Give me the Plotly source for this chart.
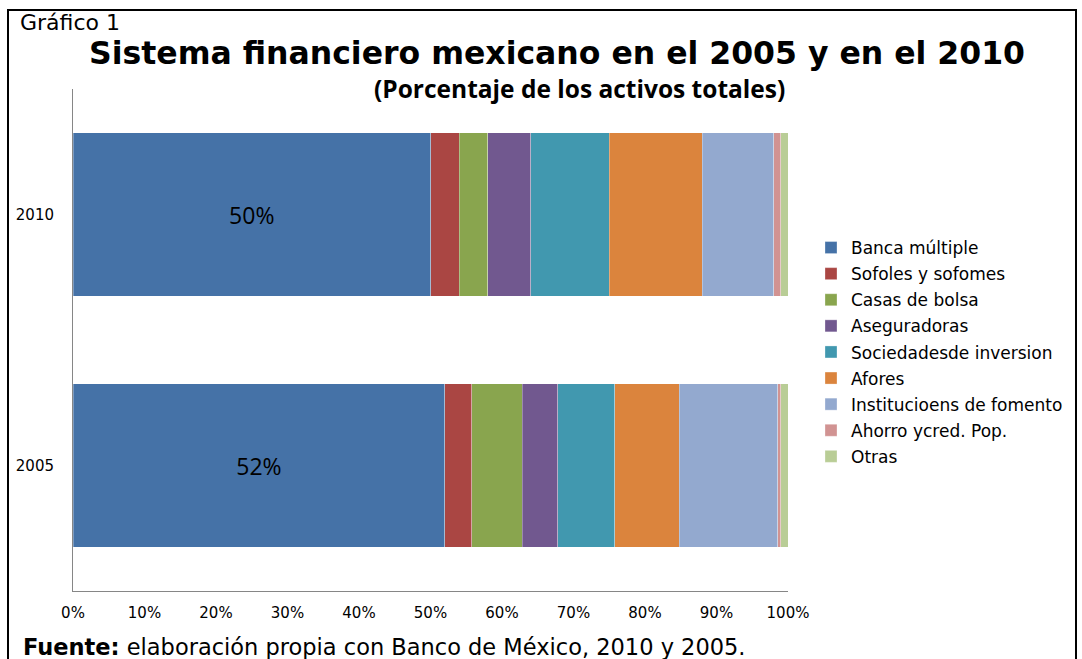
import plotly.graph_objects as go

# Data: share of total assets (%) by institution type
years = ["2005", "2010"]
categories = [
    "Banca múltiple",
    "Sofoles y sofomes",
    "Casas de bolsa",
    "Aseguradoras",
    "Sociedadesde inversion",
    "Afores",
    "Institucioens de fomento",
    "Ahorro ycred. Pop.",
    "Otras",
]
values_2005 = [52, 3.8, 7, 5, 8, 9, 13.8, 0.4, 1.0]
values_2010 = [50, 4, 4, 6, 11, 13, 10, 1, 1]
colors = ["#4572A7", "#AA4643", "#89A54E", "#71588F", "#4198AF",
          "#DB843D", "#93A9CF", "#D19392", "#B9CD96"]
x_ticks = [0, 10, 20, 30, 40, 50, 60, 70, 80, 90, 100]
x_tick_labels = [f"{t}%" for t in x_ticks]

W, H = 1082, 659
ML, MR, MT, MB = 73, W - 788, 89, H - 591
PW, PH = W - ML - MR, H - MT - MB

SANS = "DejaVu Sans, Arial, sans-serif"
SOFT = "Open Sans, Lato, sans-serif"


def px(x):
    return (x - ML) / PW


def py(y):
    return (H - MB - y) / PH


fig = go.Figure()
for i, (name, col) in enumerate(zip(categories, colors)):
    vals = [values_2005[i], values_2010[i]]
    kw = {}
    if i == 0:
        kw = dict(
            text=[f"{v:g}%" for v in vals],
            textposition="inside",
            insidetextanchor="middle",
            textfont=dict(family=SOFT, size=23, color="#000000"),
        )
    fig.add_trace(go.Bar(
        y=years, x=vals, name=name, orientation="h",
        legendgroup=f"g{i}",
        marker=dict(color=col, line=dict(color="rgba(255,255,255,0.5)", width=0.6)),
        hoverinfo="x+name",
        **kw,
    ))

fig.update_layout(
    width=W, height=H,
    barmode="stack", bargap=0.35,
    plot_bgcolor="white", paper_bgcolor="white",
    margin=dict(l=ML, r=MR, t=MT, b=MB, autoexpand=False),
    font=dict(family=SANS, color="#000000"),
    showlegend=True,
    legend=dict(
        x=px(811), y=py(230), xanchor="left", yanchor="top",
        font=dict(size=17, family=SANS),
        traceorder="grouped", itemwidth=30, tracegroupgap=1,
        bgcolor="rgba(0,0,0,0)",
    ),
    xaxis=dict(
        range=[0, 100], tickvals=x_ticks, ticktext=x_tick_labels,
        showgrid=False, zeroline=False,
        showline=True, linecolor="#868686", linewidth=1,
        ticks="", ticklabelstandoff=8,
        tickfont=dict(size=15),
        fixedrange=True,
    ),
    yaxis=dict(
        showgrid=False, zeroline=False,
        showline=True, linecolor="#868686", linewidth=1,
        ticks="", ticklabelstandoff=15,
        tickfont=dict(size=15),
        fixedrange=True,
    ),
    shapes=[
        dict(type="rect", xref="paper", yref="paper",
             x0=px(8), x1=px(1076), y0=py(675), y1=py(10),
             line=dict(color="#000000", width=2), fillcolor="rgba(0,0,0,0)",
             layer="below"),
    ],
    annotations=[
        dict(text="Gráfico 1", xref="paper", yref="paper",
             x=px(18), y=py(23), xanchor="left", yanchor="middle",
             showarrow=False, font=dict(size=22)),
        dict(text="<b>Sistema financiero mexicano en el 2005 y en el 2010</b>",
             xref="paper", yref="paper", x=px(557), y=py(53),
             xanchor="center", yanchor="middle", showarrow=False,
             font=dict(size=31.5)),
        dict(text="<b>(Porcentaje de los activos totales)</b>",
             xref="paper", yref="paper", x=px(579), y=py(88),
             xanchor="center", yanchor="middle", showarrow=False,
             font=dict(size=24.5, family=SOFT)),
        dict(text="<b>Fuente:</b> elaboración propia con Banco de México, 2010 y 2005.",
             xref="paper", yref="paper", x=px(21), y=py(647),
             xanchor="left", yanchor="middle", showarrow=False,
             font=dict(size=22.5)),
    ],
)

fig.write_html("out.html")
